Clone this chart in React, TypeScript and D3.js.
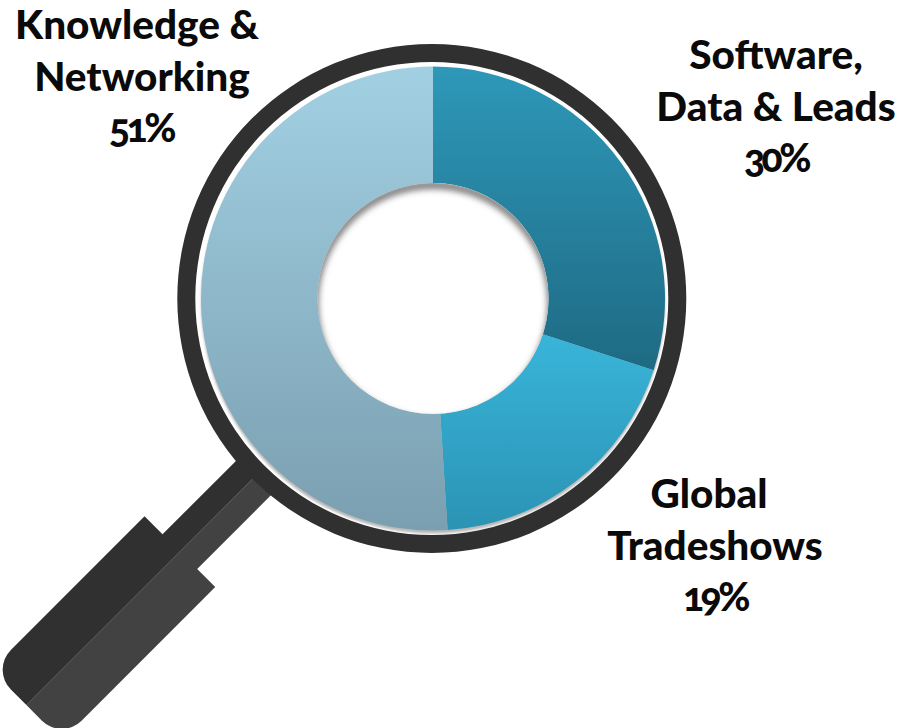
import React from "react";
import * as d3 from "d3";

const categories = ["Software, Data & Leads", "Global Tradeshows", "Knowledge & Networking"];
const values = [30, 19, 51];
const gradientTop = ["#2e98b9", "#38b5d9", "#a2d0e3"];
const gradientBottom = ["#1e6a83", "#2b93b4", "#7a9fb0"];
const labelLines = [["Software,", "Data & Leads", "30%"], ["Global", "Tradeshows", "19%"], ["Knowledge &", "Networking", "51%"]];
const labelX = [776, 715, 137];
const labelY = [69, 508, 39];
const lineShift = [[0, 0, 0], [-6, 0, 0], [0, 5, 4]];

const W = 901, H = 728, CX = 433, CY = 298.5;
const R = 232, RI = 115.5;
const RING_OUT = 254.5, RING_IN = 236.5, RING_DX = -1.2;

const pie = d3.pie<number>().sort(null)(values);
const arc = d3.arc<d3.PieArcDatum<number>>().innerRadius(RI).outerRadius(R);
const ringArc = d3.arc()({ innerRadius: RING_IN, outerRadius: RING_OUT, startAngle: 0, endAngle: Math.PI * 2 }) as string;

// handle in a frame whose x axis runs along the handle, away from the lens
const NECK = 24.5, GRIP = 50, G0 = 358, G1 = 575, CORNER = 28;
const upper = `M240,0 L240,${-NECK} L${G0},${-NECK} L${G0},${-GRIP} L${G1 - CORNER},${-GRIP} A${CORNER},${CORNER} 0 0 1 ${G1},${-GRIP + CORNER} L${G1},0 Z`;
const lower = `M240,0 L240,${NECK} L${G0},${NECK} L${G0},${GRIP} L${G1 - CORNER},${GRIP} A${CORNER},${CORNER} 0 0 0 ${G1},${GRIP - CORNER} L${G1},0 Z`;

export default function App() {
  return (
    <svg width={W} height={H} style={{ position: "fixed", left: 0, top: 0, background: "#fff" }}
      fontFamily="Lato, 'Noto Sans', sans-serif">
      <defs>
        {pie.map((d, i) => (
          <linearGradient key={i} id={`g${i}`} gradientUnits="objectBoundingBox" x1="0" y1="0" x2="0" y2="1">
            <stop offset="0" stopColor={gradientTop[i]} />
            <stop offset="1" stopColor={gradientBottom[i]} />
          </linearGradient>
        ))}
        <filter id="blur" x="-20%" y="-20%" width="140%" height="140%">
          <feGaussianBlur stdDeviation="3" />
        </filter>
        <filter id="blurSmall" x="-10%" y="-10%" width="120%" height="120%">
          <feGaussianBlur stdDeviation="1.2" />
        </filter>
        <clipPath id="hole"><circle r={RI} /></clipPath>
        <clipPath id="lens"><circle r={RING_IN} /></clipPath>
      </defs>
      <g transform={`translate(${CX},${CY}) rotate(135)`}>
        <path d={upper} fill="#424242" />
        <path d={lower} fill="#303030" />
      </g>
      <g transform={`translate(${CX},${CY})`}>
        <circle r={RING_IN} fill="#fff" />
        <g clipPath="url(#lens)">
          <circle r={R} cy={3} fill="#b8b8b8" filter="url(#blurSmall)" />
        </g>
        <path d={ringArc} fill="#303030" transform={`translate(${RING_DX},0)`} />
        {pie.map((d, i) => (
          <path key={i} d={arc(d) as string} fill={`url(#g${i})`}>
            <title>{categories[i]}</title>
          </path>
        ))}
        <circle r={RI} fill="#fff" />
        <g clipPath="url(#hole)">
          <circle r={RI + 3} cy={5} fill="none" stroke="#7a7a7a" strokeWidth={8} filter="url(#blur)" />
        </g>
      </g>
      {labelLines.map((lines, i) => (
        <text key={i} textAnchor="middle" fontWeight={900} fill="#0a0a0a"
          style={{ fontVariantNumeric: "oldstyle-nums" }}>
          {lines.map((t, j) => (
            <tspan key={j} x={labelX[i] + lineShift[i][j]} y={labelY[i] + j * 51.5}
              fontSize={j === 2 ? 39 : 40.5} letterSpacing={j === 2 ? -3.5 : 0}>{t}</tspan>
          ))}
        </text>
      ))}
    </svg>
  );
}
